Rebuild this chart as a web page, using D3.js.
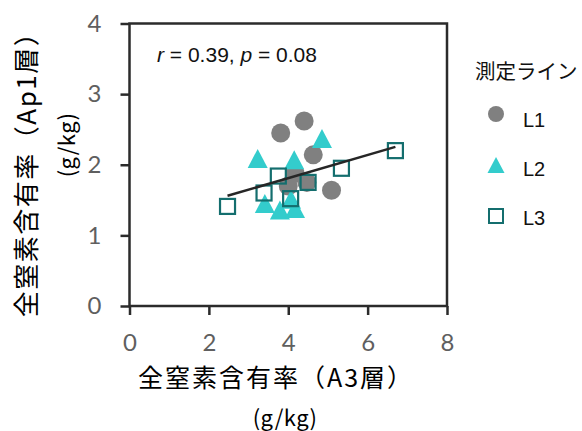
<!DOCTYPE html>
<html>
<head>
<meta charset="utf-8">
<script src="https://cdn.jsdelivr.net/npm/d3@7"></script>
<style>
  html, body { margin: 0; padding: 0; background: #fff; }
  svg { display: block; }
</style>
</head>
<body>
<svg id="chart" width="582" height="431"></svg>
<script>
// Total nitrogen content, A3 layer (x) vs Ap1 layer (y), g/kg, by measurement line
const lineNames = ["L1", "L2", "L3"];
const l1X = [3.81, 4.40, 4.63, 5.09, 4.17, 4.00, 4.47];
const l1Y = [2.45, 2.62, 2.14, 1.64, 1.88, 1.70, 1.75];
const l2X = [3.23, 4.85, 4.15, 3.41, 3.79, 4.17, 4.07];
const l2Y = [2.09, 2.37, 2.07, 1.45, 1.36, 1.38, 1.51];
const l3X = [2.47, 3.39, 3.75, 4.06, 4.50, 5.34, 6.70];
const l3Y = [1.41, 1.60, 1.84, 1.52, 1.75, 1.95, 2.20];
// fitted line over all lines: y = slope * x + intercept, drawn across the x range
const fitSlope = 0.164;
const fitIntercept = 1.155;
const fitRange = [2.47, 6.70];
const xTicks = [0, 2, 4, 6, 8];
const yTicks = [0, 1, 2, 3, 4];
const statR = "0.39";
const statP = "0.08";

const svg = d3.select("#chart");
const plotL = 129.5, plotR = 447, plotT = 23.5, plotB = 306;
const x = d3.scaleLinear().domain([0, 8]).range([plotL, plotR]);
const y = d3.scaleLinear().domain([0, 4]).range([plotB, plotT]);

const axisColor = "#2b2b2b";
const tickFont = "Lato, 'Open Sans', sans-serif";
const cjkFont = "'Noto Sans CJK JP', sans-serif";
const latinFont = "'Liberation Sans', Arial, sans-serif";

// axes with outward ticks
const gx = svg.append("g").attr("transform", `translate(0,${plotB})`)
  .call(d3.axisBottom(x).tickValues(xTicks).tickFormat(d3.format("d"))
    .tickSize(9).tickSizeOuter(0).tickPadding(19));
const gy = svg.append("g").attr("transform", `translate(${plotL},0)`)
  .call(d3.axisLeft(y).tickValues(yTicks).tickFormat(d3.format("d"))
    .tickSize(9).tickSizeOuter(0).tickPadding(19));
[gx, gy].forEach(g => {
  g.select(".domain").remove();
  g.selectAll(".tick line").attr("stroke", axisColor).attr("stroke-width", 2.5);
  g.selectAll(".tick text").attr("fill", "#5f5f5f")
    .style("font-family", tickFont).style("font-size", "24px");
});

// plot frame
svg.append("rect")
  .attr("x", plotL).attr("y", plotT)
  .attr("width", plotR - plotL).attr("height", plotB - plotT)
  .attr("fill", "none").attr("stroke", axisColor).attr("stroke-width", 2.5);

const pts = (xs, ys) => xs.map((v, i) => ({ x: v, y: ys[i] }));

// L1: grey circles
svg.append("g").selectAll("circle").data(pts(l1X, l1Y)).join("circle")
  .attr("cx", d => x(d.x)).attr("cy", d => y(d.y)).attr("r", 9.5)
  .attr("fill", "#808080");

// L2: cyan triangles
const tri = (cx, cy, w, h) => `M${cx},${cy - h / 2}L${cx + w / 2},${cy + h / 2}L${cx - w / 2},${cy + h / 2}Z`;
svg.append("g").selectAll("path").data(pts(l2X, l2Y)).join("path")
  .attr("d", d => tri(x(d.x), y(d.y), 20, 19))
  .attr("fill", "#33cccc");

// L3: open teal squares
svg.append("g").selectAll("rect").data(pts(l3X, l3Y)).join("rect")
  .attr("x", d => x(d.x) - 7.5).attr("y", d => y(d.y) - 7.5)
  .attr("width", 15).attr("height", 15)
  .attr("fill", "none").attr("stroke", "#146e6e").attr("stroke-width", 2.2);

// regression line
svg.append("line")
  .attr("x1", x(fitRange[0])).attr("y1", y(fitSlope * fitRange[0] + fitIntercept))
  .attr("x2", x(fitRange[1])).attr("y2", y(fitSlope * fitRange[1] + fitIntercept))
  .attr("stroke", "#262626").attr("stroke-width", 2.5);

// correlation annotation
const ann = svg.append("text").attr("x", 157).attr("y", 62)
  .style("font-family", latinFont).style("font-size", "21px").attr("fill", "#111");
ann.append("tspan").style("font-style", "italic").text("r");
ann.append("tspan").text(` = ${statR}, `);
ann.append("tspan").style("font-style", "italic").text("p");
ann.append("tspan").text(` = ${statP}`);

// axis titles
const title = (tx, ty, rot, size, spacing, str) => svg.append("text")
  .attr("transform", `translate(${tx},${ty}) rotate(${rot})`).attr("dy", "0.35em")
  .attr("text-anchor", "middle").style("font-family", cjkFont).style("font-size", size + "px")
  .style("letter-spacing", spacing + "px").attr("fill", "#000").text(str);
title(276, 378, 0, 25, 2, "全窒素含有率（A3層）");
title(285, 418, 0, 22, 0.5, "(g/kg)");
title(27, 168, -90, 26, 1.5, "全窒素含有率（Ap1層）");
title(67, 145, -90, 22, 0.5, "(g/kg)");

// legend
const lg = svg.append("g");
lg.append("text").attr("x", 475).attr("y", 72).attr("dy", "0.35em")
  .style("font-family", cjkFont).style("font-size", "20.5px").attr("fill", "#111").text("測定ライン");
const legendY = [120, 169, 218];
lineNames.forEach((name, i) => {
  const cy = legendY[i];
  if (i === 0) lg.append("circle").attr("cx", 496).attr("cy", cy - 6).attr("r", 8).attr("fill", "#808080");
  if (i === 1) lg.append("path").attr("d", tri(496, cy - 4, 17, 16)).attr("fill", "#33cccc");
  if (i === 2) lg.append("rect").attr("x", 489).attr("y", cy - 9).attr("width", 14).attr("height", 14)
    .attr("fill", "none").attr("stroke", "#146e6e").attr("stroke-width", 2);
  lg.append("text").attr("x", 523).attr("y", cy).attr("dy", "0.35em")
    .style("font-family", latinFont).style("font-size", "20px").attr("fill", "#111").text(name);
});
</script>
</body>
</html>
